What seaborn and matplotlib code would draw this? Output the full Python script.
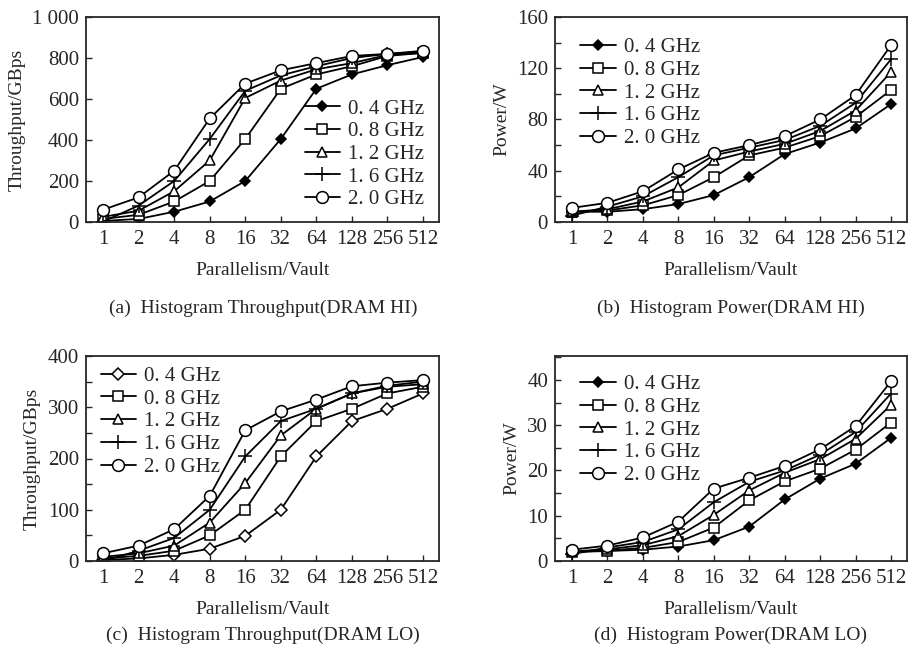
import numpy as np
import pandas as pd
import matplotlib
matplotlib.use('Agg')
import matplotlib.pyplot as plt
import seaborn as sns
from matplotlib.ticker import MultipleLocator, FuncFormatter

parallelism = ['1', '2', '4', '8', '16', '32', '64', '128', '256', '512']
freqs = ['0. 4 GHz', '0. 8 GHz', '1. 2 GHz', '1. 6 GHz', '2. 0 GHz']

# (a) throughput, DRAM HI
thr_hi_04 = [5, 15, 50, 100, 200, 405, 650, 720, 765, 805]
thr_hi_08 = [15, 35, 100, 200, 405, 650, 720, 760, 810, 825]
thr_hi_12 = [25, 55, 150, 300, 605, 690, 745, 775, 815, 825]
thr_hi_16 = [2, 80, 200, 405, 640, 715, 760, 800, 820, 830]
thr_hi_20 = [60, 120, 250, 505, 675, 740, 775, 810, 820, 835]

# (b) power, DRAM HI
pow_hi_04 = [8, 8, 10, 14, 21, 35, 53, 62, 73, 92]
pow_hi_08 = [8, 9, 13, 21, 35, 52, 58, 67, 82, 103]
pow_hi_12 = [8, 10, 16, 27, 48, 55, 61, 71, 87, 117]
pow_hi_16 = [5, 12, 20, 35, 52, 58, 64, 75, 93, 127]
pow_hi_20 = [11, 15, 24, 41, 54, 60, 67, 80, 99, 138]

# (c) throughput, DRAM LO
thr_lo_04 = [2, 5, 12, 24, 49, 100, 204, 273, 297, 327]
thr_lo_08 = [5, 10, 20, 50, 100, 204, 273, 297, 327, 340]
thr_lo_12 = [8, 15, 30, 75, 152, 245, 297, 327, 340, 345]
thr_lo_16 = [0, 20, 45, 100, 204, 273, 297, 327, 342, 350]
thr_lo_20 = [15, 30, 62, 127, 255, 292, 315, 341, 348, 353]

# (d) power, DRAM LO
pow_lo_04 = [2.0, 2.2, 2.5, 3.2, 4.6, 7.6, 13.6, 18.2, 21.5, 27.2]
pow_lo_08 = [2.0, 2.3, 2.9, 4.2, 7.4, 13.4, 17.6, 20.4, 24.6, 30.6]
pow_lo_12 = [2.1, 2.6, 3.5, 5.5, 10.2, 15.6, 19.5, 22.5, 27.0, 34.5]
pow_lo_16 = [1.5, 3.0, 4.2, 7.0, 13.0, 17.5, 20.0, 23.5, 28.5, 37.0]
pow_lo_20 = [2.5, 3.4, 5.2, 8.7, 16.0, 18.4, 21.0, 24.7, 29.8, 39.7]

sns.set_style('ticks')
plt.rcParams['font.family'] = ['Liberation Serif', 'DejaVu Serif']

fig = plt.figure(figsize=(9.1, 6.53), dpi=100)
W, H = 910.0, 653.0

def make_ax(l, t, r, b):
    return fig.add_axes([l / W, 1 - b / H, (r - l) / W, (b - t) / H])

ax_a = make_ax(86, 17, 439, 222)
ax_b = make_ax(555, 17, 907, 222)
ax_c = make_ax(86, 356, 439, 561)
ax_d = make_ax(555, 356, 907, 561)

# marker, size, face colour
styles_filled = [('D', 5, 'black'), ('s', 7.5, 'white'), ('^', 7.5, 'white'),
                 ('+', 9.5, 'none'), ('o', 8.5, 'white')]
styles_open = [('D', 6, 'white')] + styles_filled[1:]

def draw(ax, series, styles, ylim, major, minor, ylabel, loc, bbox, fmt=None):
    xs = np.arange(len(parallelism))
    for name, vals, (m, ms, fc) in zip(freqs, series, styles):
        df = pd.DataFrame({'x': xs, 'y': vals})
        sns.lineplot(data=df, x='x', y='y', ax=ax, color='black', lw=1.3,
                     marker=m, markersize=ms, markerfacecolor=fc,
                     markeredgecolor='black', markeredgewidth=1.1,
                     label=name, legend=False)
    ax.set_xlim(-0.48, 9.45)
    ax.set_ylim(*ylim)
    ax.set_xticks(xs)
    ax.set_xticklabels(parallelism)
    ax.yaxis.set_major_locator(MultipleLocator(major))
    if minor:
        ax.yaxis.set_minor_locator(MultipleLocator(minor))
    if fmt:
        ax.yaxis.set_major_formatter(FuncFormatter(fmt))
    ax.tick_params(direction='in', which='both', labelsize=15, length=4,
                   width=1.0, pad=5)
    ax.tick_params(axis='x', pad=6)
    for s in ax.spines.values():
        s.set_linewidth(1.3)
        s.set_visible(True)
    ax.set_xlabel('Parallelism/Vault', fontsize=14, labelpad=9)
    ax.set_ylabel(ylabel, fontsize=14, labelpad=5)
    ax.legend(loc=loc, bbox_to_anchor=bbox, frameon=False, fontsize=15,
              handlelength=1.7, handletextpad=0.4, labelspacing=0.15,
              borderaxespad=0.3)

thousands = lambda v, p: '1 000' if v == 1000 else '%d' % v

draw(ax_a, [thr_hi_04, thr_hi_08, thr_hi_12, thr_hi_16, thr_hi_20], styles_filled,
     (0, 1000), 200, None, 'Throughput/GBps', 'lower right', (1.0, -0.01), thousands)
draw(ax_b, [pow_hi_04, pow_hi_08, pow_hi_12, pow_hi_16, pow_hi_20], styles_filled,
     (0, 160), 40, 20, 'Power/W', 'upper left', (0.03, 0.97))
draw(ax_c, [thr_lo_04, thr_lo_08, thr_lo_12, thr_lo_16, thr_lo_20], styles_open,
     (0, 400), 100, 50, 'Throughput/GBps', 'upper left', (0.0, 1.02))
draw(ax_d, [pow_lo_04, pow_lo_08, pow_lo_12, pow_lo_16, pow_lo_20], styles_filled,
     (0, 45.3), 10, 5, 'Power/W', 'upper left', (0.03, 0.98))

fig.text(263 / W, 1 - 308 / H, '(a)  Histogram Throughput(DRAM HI)', ha='center', va='center', fontsize=14)
fig.text(731 / W, 1 - 308 / H, '(b)  Histogram Power(DRAM HI)', ha='center', va='center', fontsize=14)
fig.text(263 / W, 1 - 635 / H, '(c)  Histogram Throughput(DRAM LO)', ha='center', va='center', fontsize=14)
fig.text(731 / W, 1 - 635 / H, '(d)  Histogram Power(DRAM LO)', ha='center', va='center', fontsize=14)

fig.savefig('out.png', dpi=100)
